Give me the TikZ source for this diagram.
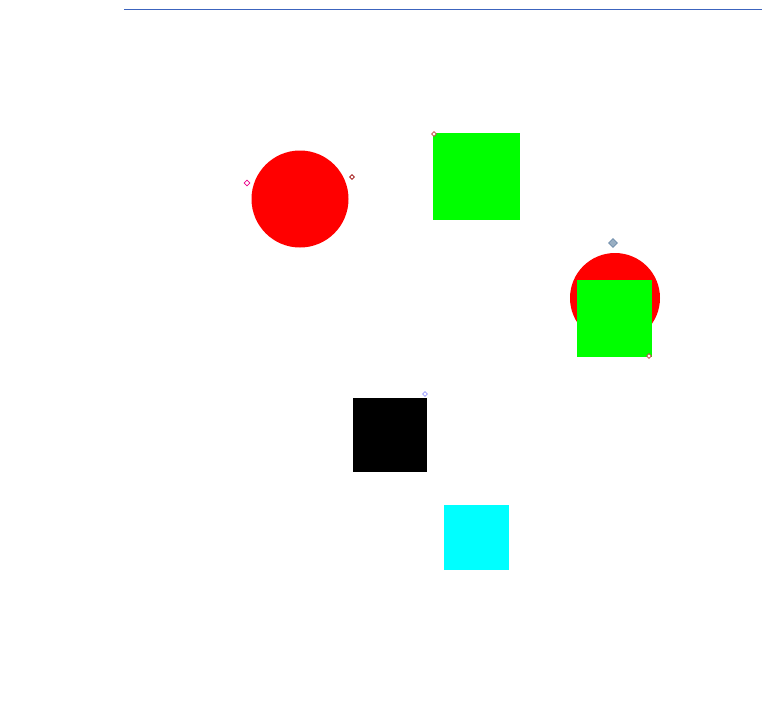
\documentclass[tikz,border=0pt]{standalone}
\usetikzlibrary{shapes.geometric}
\definecolor{linblue}{RGB}{60,100,190}
\definecolor{pred}{RGB}{255,0,0}
\definecolor{pgreen}{RGB}{0,255,0}
\definecolor{pcyan}{RGB}{0,255,255}
\definecolor{mk}{RGB}{110,140,170}
\tikzset{
  sq/.style={rectangle,draw=none,inner sep=0pt,minimum width=#1,minimum height=#1},
  disc/.style={circle,fill=pred,draw=none,inner sep=0pt,minimum size=#1},
  marker/.style={diamond,draw=#1,line width=0.8pt,fill=white,inner sep=0pt,minimum size=7pt},
}
\begin{document}
\begin{tikzpicture}[x=1pt,y=-1pt]
\useasboundingbox[fill=white] (0,0) rectangle (762,704);
\coordinate (l1) at (124,9.5);
\coordinate (l2) at (762,9.5);
\draw[linblue,line width=1.6pt] (l1) -- (l2);
% red circle
\node[disc=97pt] (rc) at (300,199) {};
\node[marker=magenta,minimum size=6pt] (m1) at (247,183) {};
\node[marker=pred!60!black,minimum size=5pt] (m1b) at (352,177) {};
% green square
\node[sq=87pt,fill=pgreen] (gs) at (476.5,176.5) {};
\node[marker=pred!50!gray,minimum size=5pt] (m2) at (434,134) {};
% red circle behind green square
\node[disc=90pt] (rc2) at (615,298) {};
\node[sq=75pt,fill=pgreen,minimum height=77pt] (gs2) at (614.5,318.5) {};
\node[marker=mk,fill=mk!70,minimum size=9pt] (m3) at (613,243) {};
\node[marker=pred!50!gray,minimum size=5pt] (m4) at (649,356) {};
% black square
\node[sq=74pt,fill=black] (bs) at (390,435) {};
\node[marker=blue!40,minimum size=5pt] (m5) at (425,394) {};
% cyan square
\node[sq=65pt,fill=pcyan] (cs) at (476.5,537.5) {};
\end{tikzpicture}
\end{document}
